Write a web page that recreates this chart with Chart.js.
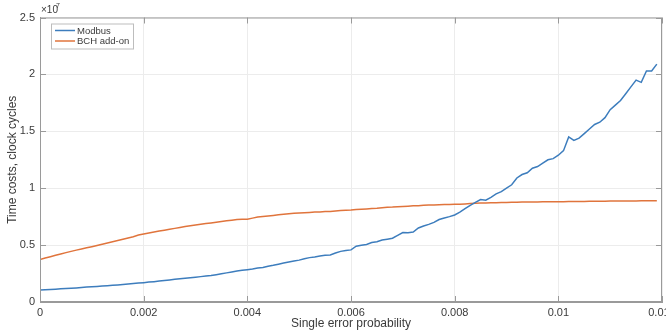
<!DOCTYPE html>
<html>
<head>
<meta charset="utf-8">
<script src="https://cdn.jsdelivr.net/npm/chart.js@4.4.1/dist/chart.umd.min.js"></script>
<style>
  html, body { margin: 0; padding: 0; background: #fff; overflow: hidden; }
  #wrap { width: 666px; height: 335px; overflow: hidden; }
  #wrap canvas { display: block; }
</style>
</head>
<body>
<div id="wrap"><canvas id="costChart" width="690" height="335"></canvas></div>
<script>
// single error probability (x), step 0.0001
var probability = [
  0, 0.0001, 0.0002, 0.0003, 0.0004, 0.0005, 0.0006, 0.0007, 0.0008, 0.0009,
  0.0010, 0.0011, 0.0012, 0.0013, 0.0014, 0.0015, 0.0016, 0.0017, 0.0018, 0.0019,
  0.0020, 0.0021, 0.0022, 0.0023, 0.0024, 0.0025, 0.0026, 0.0027, 0.0028, 0.0029,
  0.0030, 0.0031, 0.0032, 0.0033, 0.0034, 0.0035, 0.0036, 0.0037, 0.0038, 0.0039,
  0.0040, 0.0041, 0.0042, 0.0043, 0.0044, 0.0045, 0.0046, 0.0047, 0.0048, 0.0049,
  0.0050, 0.0051, 0.0052, 0.0053, 0.0054, 0.0055, 0.0056, 0.0057, 0.0058, 0.0059,
  0.0060, 0.0061, 0.0062, 0.0063, 0.0064, 0.0065, 0.0066, 0.0067, 0.0068, 0.0069,
  0.0070, 0.0071, 0.0072, 0.0073, 0.0074, 0.0075, 0.0076, 0.0077, 0.0078, 0.0079,
  0.0080, 0.0081, 0.0082, 0.0083, 0.0084, 0.0085, 0.0086, 0.0087, 0.0088, 0.0089,
  0.0090, 0.0091, 0.0092, 0.0093, 0.0094, 0.0095, 0.0096, 0.0097, 0.0098, 0.0099,
  0.0100, 0.0101, 0.0102, 0.0103, 0.0104, 0.0105, 0.0106, 0.0107, 0.0108, 0.0109,
  0.0110, 0.0111, 0.0112, 0.0113, 0.0114, 0.0115, 0.0116, 0.0117, 0.0118, 0.0119
];

// time costs, in units of 10^7 clock cycles
var modbus = [
  0.105, 0.108, 0.110, 0.113, 0.116, 0.118, 0.121, 0.124, 0.127, 0.131,
  0.134, 0.137, 0.140, 0.143, 0.147, 0.150, 0.154, 0.158, 0.162, 0.166,
  0.170, 0.175, 0.179, 0.184, 0.189, 0.194, 0.199, 0.204, 0.209, 0.214,
  0.218, 0.223, 0.228, 0.233, 0.240, 0.248, 0.256, 0.264, 0.272, 0.278,
  0.284, 0.290, 0.298, 0.304, 0.314, 0.322, 0.332, 0.342, 0.352, 0.360,
  0.368, 0.380, 0.390, 0.396, 0.404, 0.410, 0.414, 0.430, 0.445, 0.452,
  0.458, 0.490, 0.498, 0.505, 0.522, 0.530, 0.545, 0.552, 0.560, 0.585,
  0.610, 0.609, 0.615, 0.650, 0.668, 0.682, 0.700, 0.725, 0.738, 0.750,
  0.765, 0.790, 0.820, 0.850, 0.875, 0.900, 0.895, 0.920, 0.950, 0.970,
  1.000, 1.030, 1.090, 1.120, 1.135, 1.175, 1.190, 1.220, 1.250, 1.260,
  1.290, 1.330, 1.450, 1.420, 1.440, 1.480, 1.520, 1.560, 1.580, 1.620,
  1.690, 1.730, 1.770, 1.830, 1.890, 1.950, 1.930, 2.030, 2.030, 2.090
];

var bchAddOn = [
  0.374, 0.386, 0.398, 0.410, 0.422, 0.434, 0.445, 0.456, 0.466, 0.476,
  0.486, 0.497, 0.508, 0.519, 0.530, 0.541, 0.552, 0.563, 0.574, 0.588,
  0.598, 0.607, 0.615, 0.623, 0.631, 0.639, 0.647, 0.655, 0.663, 0.670,
  0.677, 0.683, 0.689, 0.695, 0.701, 0.707, 0.713, 0.719, 0.724, 0.728,
  0.727, 0.737, 0.746, 0.752, 0.756, 0.761, 0.766, 0.771, 0.776, 0.779,
  0.782, 0.785, 0.787, 0.790, 0.791, 0.795, 0.796, 0.800, 0.803, 0.806,
  0.808, 0.812, 0.815, 0.818, 0.822, 0.824, 0.828, 0.832, 0.834, 0.838,
  0.840, 0.842, 0.845, 0.846, 0.850, 0.852, 0.853, 0.854, 0.856, 0.857,
  0.858, 0.860, 0.862, 0.865, 0.868, 0.870, 0.871, 0.872, 0.873, 0.874,
  0.875, 0.876, 0.877, 0.878, 0.878, 0.879, 0.879, 0.880, 0.880, 0.881,
  0.881, 0.882, 0.883, 0.883, 0.884, 0.884, 0.885, 0.885, 0.886, 0.886,
  0.887, 0.887, 0.887, 0.888, 0.888, 0.888, 0.889, 0.889, 0.889, 0.889
];

var seriesNames = ["Modbus", "BCH add-on"];
var xTicks = [0, 0.002, 0.004, 0.006, 0.008, 0.01, 0.012];
var yTicks = [0, 0.5, 1, 1.5, 2, 2.5];

var FONT = "'Liberation Sans', Arial, sans-serif";
var TEXT = "#3a3a3a";
var AXIS = "#9a9a9a";

function toPoints(ys) {
  return ys.map(function (y, i) {
    return { x: probability[i], y: y };
  });
}

// box round the plot, inward tick marks, x10^7 and legend
var matlabFrame = {
  id: "matlabFrame",
  afterDraw: function (chart) {
    var ctx = chart.ctx;
    var a = chart.chartArea;
    var xs = chart.scales.x;
    var ys = chart.scales.y;
    ctx.save();
    ctx.strokeStyle = AXIS;
    ctx.lineWidth = 1;
    ctx.strokeRect(a.left + 0.5, a.top + 0.5, a.right - a.left - 1, a.bottom - a.top - 1);
    ctx.beginPath();
    xTicks.forEach(function (v) {
      var px = Math.round(xs.getPixelForValue(v)) + 0.5;
      ctx.moveTo(px, a.bottom);
      ctx.lineTo(px, a.bottom - 6);
      ctx.moveTo(px, a.top);
      ctx.lineTo(px, a.top + 6);
    });
    yTicks.forEach(function (v) {
      var py = Math.round(ys.getPixelForValue(v)) + 0.5;
      ctx.moveTo(a.left, py);
      ctx.lineTo(a.left + 6, py);
      ctx.moveTo(a.right, py);
      ctx.lineTo(a.right - 6, py);
    });
    ctx.stroke();

    // exponent label
    ctx.fillStyle = TEXT;
    ctx.textBaseline = "alphabetic";
    ctx.textAlign = "left";
    ctx.font = "10px " + FONT;
    ctx.fillText("\u00d710", a.left + 1, a.top - 5);
    ctx.font = "7px " + FONT;
    ctx.fillText("7", a.left + 16, a.top - 10);

    // legend
    var lx = a.left + 11, ly = a.top + 6, lw = 82, lh = 25;
    ctx.fillStyle = "#fff";
    ctx.fillRect(lx, ly, lw, lh);
    ctx.strokeStyle = "#bdbdbd";
    ctx.strokeRect(lx + 0.5, ly + 0.5, lw, lh);
    ctx.font = "9.5px " + FONT;
    ctx.textBaseline = "middle";
    chart.data.datasets.forEach(function (ds, i) {
      var rowY = ly + 7 + i * 10.5;
      ctx.strokeStyle = ds.borderColor;
      ctx.lineWidth = 1.5;
      ctx.beginPath();
      ctx.moveTo(lx + 4, rowY);
      ctx.lineTo(lx + 24, rowY);
      ctx.stroke();
      ctx.fillStyle = TEXT;
      ctx.fillText(ds.label, lx + 26, rowY + 0.5);
    });
    ctx.restore();
  },
};

var ctxCost = document.getElementById("costChart");
var chartCost = new Chart(ctxCost, {
  type: "line",
  data: {
    datasets: [
      {
        label: seriesNames[0],
        data: toPoints(modbus),
        borderColor: "#3d7dbd",
        borderWidth: 1.5,
        pointRadius: 0,
        tension: 0,
      },
      {
        label: seriesNames[1],
        data: toPoints(bchAddOn),
        borderColor: "#e0743c",
        borderWidth: 1.5,
        pointRadius: 0,
        tension: 0,
      },
    ],
  },
  options: {
    responsive: false,
    animation: false,
    layout: {
      padding: { left: 0, right: 28, top: 17.5, bottom: 0 },
    },
    plugins: {
      legend: { display: false },
      tooltip: { enabled: false },
    },
    scales: {
      x: {
        type: "linear",
        min: 0,
        max: 0.012,
        afterBuildTicks: function (scale) {
          scale.ticks = xTicks.map(function (v) { return { value: v }; });
        },
        ticks: {
          padding: 4,
          color: TEXT,
          font: { family: FONT, size: 11 },
          maxRotation: 0,
          autoSkip: false,
          callback: function (value) {
            return String(Number(value.toFixed(3)));
          },
        },
        grid: { color: "#ececec", drawTicks: false },
        border: { color: AXIS },
        title: {
          display: true,
          text: "Single error probability",
          color: TEXT,
          font: { family: FONT, size: 12 },
          padding: { top: 0, bottom: 4 },
        },
        afterFit: function (scale) {
          scale.height = 33;
        },
      },
      y: {
        min: 0,
        max: 2.5,
        afterBuildTicks: function (scale) {
          scale.ticks = yTicks.map(function (v) { return { value: v }; });
        },
        ticks: {
          padding: 5,
          color: TEXT,
          font: { family: FONT, size: 11 },
          callback: function (value) {
            return String(value);
          },
        },
        grid: { color: "#ececec", drawTicks: false },
        border: { color: AXIS },
        title: {
          display: true,
          text: "Time costs, clock cycles",
          color: TEXT,
          font: { family: FONT, size: 12 },
          padding: { top: 5, bottom: 0 },
        },
        afterFit: function (scale) {
          scale.width = 40;
        },
      },
    },
  },
  plugins: [matlabFrame],
});
</script>
</body>
</html>
